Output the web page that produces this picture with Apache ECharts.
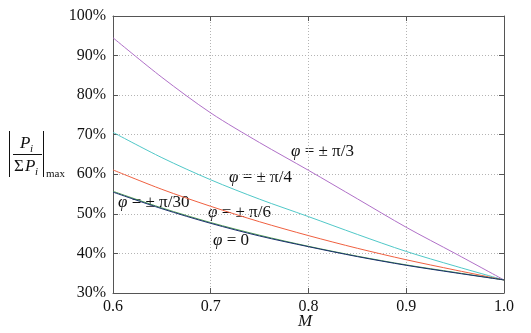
<!DOCTYPE html>
<html>
<head>
<meta charset="utf-8">
<script src="https://cdn.jsdelivr.net/npm/echarts@6/dist/echarts.min.js"></script>
<style>
  html, body { margin: 0; padding: 0; background: #fff; }
  #chart { width: 531px; height: 333px; }
</style>
</head>
<body>
<div id="chart"></div>
<script>
// Modulation index M
const mValues = [0.6, 0.65, 0.7, 0.75, 0.8, 0.85, 0.9, 0.95, 1.0];

// Normalised power share, percent, one array per phase angle
const phiZero   = [55.5, 51.3, 47.6, 44.4, 41.7, 39.2, 37.0, 35.1, 33.3];
const phiPi30   = [55.7, 51.5, 47.8, 44.6, 41.8, 39.3, 37.1, 35.2, 33.3];
const phiPi6    = [61.1, 56.2, 51.9, 48.0, 44.5, 41.3, 38.4, 35.8, 33.3];
const phiPi4    = [70.6, 64.2, 58.6, 53.7, 49.3, 44.8, 40.5, 36.8, 33.3];
const phiPi3    = [94.5, 84.5, 75.5, 68.0, 61.0, 53.8, 46.6, 40.0, 33.3];

const xTicks = ['0.6', '0.7', '0.8', '0.9', '1.0'];
const yTicks = [30, 40, 50, 60, 70, 80, 90, 100];

const serif = '"Liberation Serif", "DejaVu Serif", serif';
const pairs = ys => mValues.map((m, i) => [m, ys[i]]);

function line(name, ys, color) {
  return {
    name, type: 'line', data: pairs(ys), smooth: 0.3, symbol: 'none',
    lineStyle: { color, width: 1 }, xAxisIndex: 0, yAxisIndex: 0
  };
}

const frame = '#555';
const chart = echarts.init(document.getElementById('chart'));

// Curve annotation: italic phi followed by the angle
function phiLabel(x, yMid, rest) {
  return {
    type: 'text', x, y: yMid,
    style: {
      text: '{p|φ}' + rest,
      font: '17px ' + serif, fill: '#111', verticalAlign: 'middle',
      rich: { p: { font: 'italic 17px ' + serif, fill: '#111' } }
    }
  };
}

chart.setOption({
  animation: false,
  backgroundColor: '#fff',
  grid: { left: 113, right: 27, top: 16, bottom: 40, outerBoundsMode: 'none', containLabel: false },
  xAxis: [
    {
      type: 'value', min: 0.6, max: 1.0, interval: 0.1, position: 'bottom',
      axisLine: { onZero: false, lineStyle: { color: frame, width: 1 } },
      axisTick: { inside: true, length: 5, lineStyle: { color: frame } },
      axisLabel: {
        color: '#111', fontFamily: serif, fontSize: 16, margin: 6,
        formatter: v => xTicks[Math.round((v - 0.6) * 10)]
      },
      splitLine: { show: true, lineStyle: { color: '#b4b4b4', type: [1, 2], width: 1 } }
    },
    {
      type: 'value', min: 0.6, max: 1.0, interval: 0.1, position: 'top',
      axisLine: { onZero: false, lineStyle: { color: frame, width: 1 } },
      axisTick: { inside: true, length: 5, lineStyle: { color: frame } },
      axisLabel: { show: false }, splitLine: { show: false }
    }
  ],
  yAxis: [
    {
      type: 'value', min: 30, max: 100, interval: 10, position: 'left',
      axisLine: { show: true, onZero: false, lineStyle: { color: frame, width: 1 } },
      axisTick: { show: true, inside: true, length: 5, lineStyle: { color: frame } },
      axisLabel: {
        color: '#111', fontFamily: serif, fontSize: 16, margin: 7,
        formatter: v => yTicks.includes(v) ? v + '%' : ''
      },
      splitLine: { show: true, lineStyle: { color: '#b4b4b4', type: [1, 2], width: 1 } }
    },
    {
      type: 'value', min: 30, max: 100, interval: 10, position: 'right',
      axisLine: { show: true, onZero: false, lineStyle: { color: frame, width: 1 } },
      axisTick: { show: true, inside: true, length: 5, lineStyle: { color: frame } },
      axisLabel: { show: false }, splitLine: { show: false }
    }
  ],
  series: [
    line('φ=±π/3', phiPi3, '#b070c8'),
    line('φ=±π/4', phiPi4, '#50c8c8'),
    line('φ=±π/6', phiPi6, '#f06040'),
    line('φ=±π/30', phiPi30, '#4a9a50'),
    line('φ=0', phiZero, '#1a2e6e')
  ],
  graphic: [
    // X-axis quantity
    { type: 'text', x: 305, y: 322, style: { text: 'M', font: 'italic 17px ' + serif, fill: '#111', align: 'center', verticalAlign: 'middle' } },
    // Y-axis quantity: |P_i / ΣP_i|_max
    { type: 'line', shape: { x1: 9.5, y1: 131, x2: 9.5, y2: 177 }, style: { stroke: '#111', lineWidth: 1 } },
    { type: 'line', shape: { x1: 43.5, y1: 131, x2: 43.5, y2: 177 }, style: { stroke: '#111', lineWidth: 1 } },
    { type: 'line', shape: { x1: 13, y1: 154.5, x2: 42, y2: 154.5 }, style: { stroke: '#111', lineWidth: 1 } },
    { type: 'text', x: 20, y: 135, style: { text: 'P', font: 'italic 17px ' + serif, fill: '#111' } },
    { type: 'text', x: 30, y: 144, style: { text: 'i', font: 'italic 11px ' + serif, fill: '#111' } },
    { type: 'text', x: 14, y: 158, style: { text: 'Σ', font: '17px ' + serif, fill: '#111' } },
    { type: 'text', x: 25, y: 158, style: { text: 'P', font: 'italic 17px ' + serif, fill: '#111' } },
    { type: 'text', x: 35, y: 167, style: { text: 'i', font: 'italic 11px ' + serif, fill: '#111' } },
    { type: 'text', x: 46, y: 169, style: { text: 'max', font: '11px ' + serif, fill: '#111' } },
    // Curve annotations
    phiLabel(291, 152, ' = ± π/3'),
    phiLabel(229, 178, ' = ± π/4'),
    phiLabel(118, 203, ' = ± π/30'),
    phiLabel(208, 213, ' = ± π/6'),
    phiLabel(213, 241, ' = 0')
  ]
});
</script>
</body>
</html>
